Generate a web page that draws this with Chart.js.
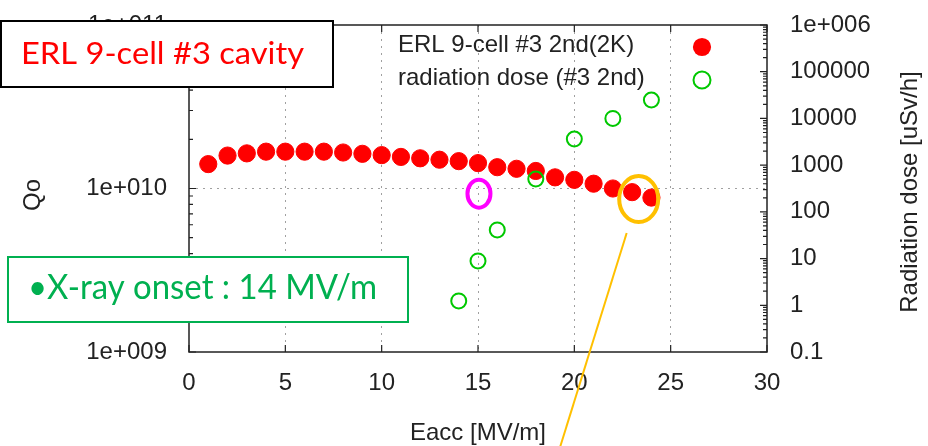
<!DOCTYPE html>
<html>
<head>
<meta charset="utf-8">
<script src="https://cdn.jsdelivr.net/npm/chart.js@4/dist/chart.umd.min.js"></script>
<style>
  html, body { margin: 0; padding: 0; background: #fff; }
  #wrap { width: 928px; height: 446px; }
</style>
</head>
<body>
<div id="wrap"><canvas id="c" width="928" height="446"></canvas></div>
<script>
// Qo vs accelerating gradient, 2nd vertical test at 2K
const eacc = [1, 2, 3, 4, 5, 6, 7, 8, 9, 10, 11, 12, 13, 14, 15, 16, 17, 18, 19, 20, 21, 22, 23, 24];
const qo = [1.41e10, 1.59e10, 1.64e10, 1.68e10, 1.68e10, 1.68e10, 1.68e10, 1.66e10, 1.63e10, 1.60e10,
            1.56e10, 1.53e10, 1.50e10, 1.47e10, 1.43e10, 1.35e10, 1.32e10, 1.28e10, 1.17e10, 1.13e10,
            1.07e10, 1.00e10, 9.5e9, 8.8e9];

// radiation dose measured outside the cryostat
const doseEacc = [14, 15, 16, 18, 20, 22, 24];
const dose = [1.24, 8.9, 41, 505, 3630, 10000, 24800];

const xTicks = [0, 5, 10, 15, 20, 25, 30];
const qoTicks = [1e9, 1e10, 1e11];
const qoTickLabels = ['1e+009', '1e+010', '1e+011'];
const doseTicks = [0.1, 1, 10, 100, 1000, 10000, 100000, 1000000];
const doseTickLabels = ['0.1', '1', '10', '100', '1000', '10000', '100000', '1e+006'];

const seriesLabels = ['ERL 9-cell #3 2nd(2K)', 'radiation dose (#3 2nd)'];
const axisTitles = { x: 'Eacc [MV/m]', y: 'Qo', y2: 'Radiation dose [uSv/h]' };
const cavityLabel = 'ERL 9-cell #3 cavity';
const onsetLabel = '\u2022X-ray onset : 14 MV/m';

// points circled on the plot (Eacc, Qo)
const onsetMark = { x: 15.05, y: 9.3e9 };
const limitMark = { x: 23.34, y: 8.63e9 };

const family = "'Liberation Sans', Arial, sans-serif";
const ink = '#222';
const gridColor = '#a0a0a0';
const tickFont = { family, size: 24 };

// draw text with a given cap height, squeezed/stretched to a given width
function boxText(ctx, text, face, capHeight, width, x, baseline, color) {
  const size = capHeight / 0.717;
  ctx.font = `${size.toFixed(2)}px ${face}`;
  const w = ctx.measureText(text).width;
  ctx.save();
  ctx.translate(x, baseline);
  ctx.scale(width / w, 1);
  ctx.fillStyle = color;
  ctx.textAlign = 'left';
  ctx.textBaseline = 'alphabetic';
  ctx.fillText(text, 0, 0);
  ctx.restore();
}

function rotatedText(ctx, text, x, y) {
  ctx.save();
  ctx.translate(x, y);
  ctx.rotate(-Math.PI / 2);
  ctx.fillText(text, 0, 0);
  ctx.restore();
}

// keep the plot box where the layout puts it, ignoring label overhang
const noOverhang = s => { s.paddingTop = 0; s.paddingBottom = 0; s.paddingLeft = 0; s.paddingRight = 0; };

const overlay = {
  id: 'overlay',
  afterDraw(chart) {
    const { ctx, chartArea: a } = chart;
    const X = chart.scales.x, Y = chart.scales.y, Y2 = chart.scales.y2;
    ctx.save();

    // plot frame with inward tick marks
    ctx.strokeStyle = ink;
    ctx.lineWidth = 1.5;
    ctx.strokeRect(a.left, a.top, a.right - a.left, a.bottom - a.top);
    ctx.lineWidth = 1.2;
    ctx.beginPath();
    xTicks.forEach(v => {
      const px = X.getPixelForValue(v);
      ctx.moveTo(px, a.bottom); ctx.lineTo(px, a.bottom - 7);
      ctx.moveTo(px, a.top); ctx.lineTo(px, a.top + 7);
    });
    const logTicks = (scale, decades, edge, dir) => {
      decades.forEach((d, i) => {
        const top = i === decades.length - 1;
        for (let m = 1; m <= (top ? 1 : 9); m++) {
          const py = scale.getPixelForValue(d * m);
          const len = m === 1 ? 7 : 4;
          ctx.moveTo(edge, py); ctx.lineTo(edge + dir * len, py);
        }
      });
    };
    logTicks(Y, qoTicks, a.left, 1);
    logTicks(Y2, doseTicks, a.right, -1);
    ctx.stroke();

    // vertical axis titles
    ctx.fillStyle = ink;
    ctx.font = `24px ${family}`;
    ctx.textAlign = 'center';
    ctx.textBaseline = 'middle';
    rotatedText(ctx, axisTitles.y, 33, 195);
    rotatedText(ctx, axisTitles.y2, 910, 192);

    // key, inside the plot at top right
    const rows = [45, 78];
    chart.data.datasets.forEach((ds, i) => {
      ctx.fillStyle = ink;
      ctx.textAlign = 'left';
      ctx.textBaseline = 'middle';
      ctx.font = `24px ${family}`;
      ctx.fillText(ds.label, 398, rows[i]);
      ctx.beginPath();
      ctx.arc(702, rows[i] + 2, ds.pointRadius + ds.borderWidth / 2, 0, Math.PI * 2);
      if (ds.backgroundColor !== 'transparent') {
        ctx.fillStyle = ds.backgroundColor;
        ctx.fill();
      } else {
        ctx.strokeStyle = ds.borderColor;
        ctx.lineWidth = ds.borderWidth;
        ctx.stroke();
      }
    });

    // cavity label box
    ctx.fillStyle = '#fff';
    ctx.fillRect(1, 21, 332, 66);
    ctx.strokeStyle = '#000';
    ctx.lineWidth = 2;
    ctx.strokeRect(1, 21, 332, 66);
    boxText(ctx, cavityLabel, 'Lato', 21.6, 283, 21, 63.5, '#ff0000');

    // x-ray onset box
    ctx.fillStyle = '#fff';
    ctx.fillRect(8, 257, 400, 65);
    ctx.strokeStyle = '#00b050';
    ctx.lineWidth = 2;
    ctx.strokeRect(8, 257, 400, 65);
    boxText(ctx, onsetLabel, 'Lato', 24.5, 349, 28, 299, '#00b050');

    // circled measurements
    const p1x = X.getPixelForValue(onsetMark.x), p1y = Y.getPixelForValue(onsetMark.y);
    ctx.strokeStyle = '#ff00ff';
    ctx.lineWidth = 4;
    ctx.beginPath();
    ctx.ellipse(p1x, p1y, 11.5, 14, 0, 0, Math.PI * 2);
    ctx.stroke();

    const p2x = X.getPixelForValue(limitMark.x), p2y = Y.getPixelForValue(limitMark.y);
    ctx.strokeStyle = '#ffc000';
    ctx.beginPath();
    ctx.ellipse(p2x, p2y, 19.5, 23, 0, 0, Math.PI * 2);
    ctx.stroke();

    // callout leader running off the bottom
    const sx = p2x - 12, sy = p2y + 34;
    const ey = chart.height + 2;
    ctx.lineWidth = 2;
    ctx.beginPath();
    ctx.moveTo(sx, sy);
    ctx.lineTo(sx - (ey - sy) * 0.311, ey);
    ctx.stroke();

    ctx.restore();
  }
};

new Chart(document.getElementById('c'), {
  type: 'scatter',
  data: {
    datasets: [
      {
        label: seriesLabels[0],
        data: eacc.map((x, i) => ({ x, y: qo[i] })),
        yAxisID: 'y',
        pointStyle: 'circle',
        pointRadius: 8.6,
        borderWidth: 1,
        backgroundColor: '#ff0000',
        borderColor: '#ff0000',
        order: 2
      },
      {
        label: seriesLabels[1],
        data: doseEacc.map((x, i) => ({ x, y: dose[i] })),
        yAxisID: 'y2',
        pointStyle: 'circle',
        pointRadius: 7.5,
        borderWidth: 2,
        backgroundColor: 'transparent',
        borderColor: '#00c800',
        order: 1
      }
    ]
  },
  options: {
    responsive: false,
    animation: false,
    devicePixelRatio: 1,
    layout: { padding: { top: 25, left: 0, right: 0, bottom: 0 } },
    plugins: { legend: { display: false }, tooltip: { enabled: false } },
    scales: {
      x: {
        type: 'linear',
        position: 'bottom',
        min: 0, max: 30,
        afterBuildTicks: s => { s.ticks = xTicks.map(v => ({ value: v })); },
        afterFit: s => { s.height = 94; noOverhang(s); },
        ticks: { font: tickFont, color: ink, padding: 17, maxRotation: 0, autoSkip: false },
        grid: {
          drawTicks: false,
          lineWidth: 1,
          color: c => (c.tick && c.tick.value > 0 && c.tick.value < 30) ? gridColor : 'transparent'
        },
        border: { display: false, dash: [2, 5] },
        title: { display: true, text: axisTitles.x, font: tickFont, color: ink, padding: { top: 0, bottom: -2 } }
      },
      y: {
        type: 'logarithmic',
        position: 'left',
        min: 1e9, max: 1e11,
        afterBuildTicks: s => { s.ticks = qoTicks.map(v => ({ value: v })); },
        afterFit: s => { s.width = 189; noOverhang(s); },
        ticks: {
          font: tickFont, color: ink, padding: 22, autoSkip: false,
          callback: v => qoTickLabels[qoTicks.indexOf(v)]
        },
        grid: {
          drawTicks: false,
          lineWidth: 1,
          color: c => (c.tick && c.tick.value === 1e10) ? gridColor : 'transparent'
        },
        border: { display: false, dash: [2, 5] }
      },
      y2: {
        type: 'logarithmic',
        position: 'right',
        min: 0.1, max: 1e6,
        afterBuildTicks: s => { s.ticks = doseTicks.map(v => ({ value: v })); },
        afterFit: s => { s.width = 161; noOverhang(s); },
        ticks: {
          font: tickFont, color: ink, padding: 23, autoSkip: false,
          callback: v => doseTickLabels[doseTicks.indexOf(v)]
        },
        grid: { display: false, drawTicks: false },
        border: { display: false }
      }
    }
  },
  plugins: [overlay]
});
</script>
</body>
</html>
